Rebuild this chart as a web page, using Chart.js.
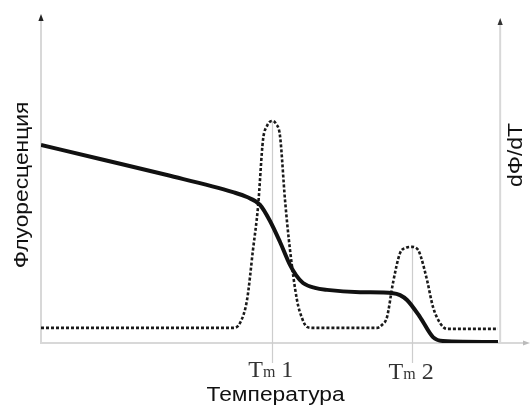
<!DOCTYPE html>
<html>
<head>
<meta charset="utf-8">
<script src="https://cdn.jsdelivr.net/npm/chart.js@4/dist/chart.umd.min.js"></script>
<style>
  html, body { margin:0; padding:0; background:#fff; }
  #c { display:block; }
</style>
</head>
<body>
<canvas id="c" width="531" height="405"></canvas>
<script>
// ===== Data (temperature in arbitrary units 0..100, signal 0..100) =====
// melting curve: fluorescence vs temperature
const meltTemp  = [0, 12.07, 25.77, 39.26, 42.13, 44.79, 46.83, 48.88, 50.92, 52.15, 53.58,
                   56.03, 58.49, 65.24, 71.98, 73.42, 74.85, 77.51, 80.16, 82.21, 93.46];
const meltFluor = [60.4, 56.1, 51.2, 46.0, 44.5, 42.1, 37.2, 30.8, 23.8, 20.7, 18.3,
                   16.8, 16.2, 15.5, 15.2, 14.6, 13.1, 7.9, 1.8, 0.6, 0.3];

// derivative curve: dF/dT vs temperature
const derivTemp  = [0, 39.26, 40.70, 42.13, 43.35, 44.38, 45.40, 46.22, 47.24, 48.06, 48.88,
                    49.90, 50.92, 52.35, 53.37, 54.40, 55.62, 68.71, 69.73, 70.76, 71.98,
                    73.42, 74.64, 75.87, 77.10, 77.71, 78.94, 80.16, 81.60, 83.03, 93.46];
const derivValue = [4.6, 4.6, 6.1, 13.1, 28.4, 41.5, 61.9, 66.2, 67.7, 66.8, 63.1,
                    43.6, 28.4, 13.1, 7.6, 4.9, 4.6, 4.6, 5.5, 7.9, 18.3,
                    27.4, 29.0, 29.3, 28.4, 26.2, 19.2, 11.0, 6.1, 4.3, 4.3];

// melting temperatures and their labels
const tmPos    = [47.2, 75.9];
const tmLabels = ['1', '2'];

// axis titles
const X_TITLE  = 'Температура';
const Y_TITLE  = 'Флуоресценция';
const Y2_TITLE = 'dΦ/dT';
const RIGHT_AXIS_AT = 93.9;   // where the dF/dT axis stands on the temperature scale

// ===== Helpers =====
const toXY = (xs, ys) => xs.map((v, i) => ({ x: v, y: ys[i] }));

function peakAt(t) {
  // derivative value of the nearest sample to t
  let best = 0;
  derivTemp.forEach((v, i) => { if (Math.abs(v - t) < Math.abs(derivTemp[best] - t)) best = i; });
  return derivValue[best];
}

function arrow(ctx, x, y, dir, color) {
  ctx.fillStyle = color;
  ctx.beginPath();
  if (dir === 'up') { ctx.moveTo(x, y); ctx.lineTo(x - 2.6, y + 7); ctx.lineTo(x + 2.6, y + 7); }
  else { ctx.moveTo(x, y); ctx.lineTo(x - 7, y - 2.6); ctx.lineTo(x - 7, y + 2.6); }
  ctx.closePath(); ctx.fill();
}

// sans text is drawn a bit wide, like in the original figure
function wideText(ctx, text, x, y, rot) {
  ctx.save();
  ctx.translate(x, y);
  if (rot) ctx.rotate(rot);
  ctx.scale(1.14, 1);
  ctx.font = '20px "Liberation Sans", Arial, sans-serif';
  ctx.fillStyle = '#111';
  ctx.textAlign = 'center';
  ctx.textBaseline = 'alphabetic';
  ctx.fillText(text, 0, 0);
  ctx.restore();
}

function tmText(ctx, num, cx, baseline) {
  const big = '24px "Liberation Serif", "Times New Roman", serif';
  const small = '16px "Liberation Serif", "Times New Roman", serif';
  ctx.save();
  ctx.fillStyle = '#333';
  ctx.textBaseline = 'alphabetic';
  ctx.textAlign = 'left';
  ctx.font = big;   const wT = ctx.measureText('T').width, wN = ctx.measureText(' ' + num).width;
  ctx.font = small; const wm = ctx.measureText('m').width;
  let x = cx - (wT + wm + wN) / 2;
  ctx.font = big;   ctx.fillText('T', x, baseline); x += wT;
  ctx.font = small; ctx.fillText('m', x, baseline); x += wm;
  ctx.font = big;   ctx.fillText(' ' + num, x, baseline);
  ctx.restore();
}

// ===== Plugin: axes with arrows, Tm guides, titles =====
const decor = {
  id: 'decor',
  beforeDatasetsDraw(chart) {
    const { ctx, chartArea: a, scales: { x, y2 } } = chart;
    const rx = x.getPixelForValue(RIGHT_AXIS_AT);
    ctx.save();
    ctx.strokeStyle = '#d8d8d8';
    ctx.lineWidth = 2;
    ctx.beginPath();
    ctx.moveTo(a.left, a.top + 3); ctx.lineTo(a.left, a.bottom); ctx.lineTo(a.right - 4, a.bottom);
    ctx.moveTo(rx, a.top + 6); ctx.lineTo(rx, a.bottom);
    ctx.stroke();

    ctx.strokeStyle = '#cdcdcd';
    ctx.lineWidth = 1.2;
    tmPos.forEach(t => {
      const px = Math.round(x.getPixelForValue(t)) + 0.5;
      ctx.beginPath();
      ctx.moveTo(px, y2.getPixelForValue(peakAt(t)));
      ctx.lineTo(px, a.bottom + 20);
      ctx.stroke();
    });
    ctx.restore();
  },
  afterDraw(chart) {
    const { ctx, chartArea: a, scales: { x } } = chart;
    const rx = x.getPixelForValue(RIGHT_AXIS_AT);
    arrow(ctx, a.left, a.top - 1, 'up', '#222');
    arrow(ctx, rx, a.top + 3, 'up', '#333');
    arrow(ctx, a.right, a.bottom, 'right', '#bbb');

    tmPos.forEach((t, i) => tmText(ctx, tmLabels[i], x.getPixelForValue(t) - 1, a.bottom + 34 + i * 2));

    wideText(ctx, X_TITLE, (a.left + rx) / 2 + 5, a.bottom + 58, 0);
    wideText(ctx, Y_TITLE, 28, 185, -Math.PI / 2);
    wideText(ctx, Y2_TITLE, rx + 22, 155, -Math.PI / 2);
  }
};

// ===== Chart =====
new Chart(document.getElementById('c'), {
  type: 'line',
  data: {
    datasets: [
      {
        label: Y_TITLE,
        data: toXY(meltTemp, meltFluor),
        yAxisID: 'y',
        borderColor: '#111',
        borderWidth: 4,
        pointRadius: 0,
        cubicInterpolationMode: 'monotone',
        fill: false
      },
      {
        label: Y2_TITLE,
        data: toXY(derivTemp, derivValue),
        yAxisID: 'y2',
        borderColor: '#1a1a1a',
        borderWidth: 2.6,
        borderDash: [3, 2],
        pointRadius: 0,
        cubicInterpolationMode: 'monotone',
        fill: false
      }
    ]
  },
  options: {
    responsive: false,
    animation: false,
    devicePixelRatio: 1,
    layout: { padding: { left: 41, right: 1, top: 15, bottom: 62 } },
    plugins: { legend: { display: false }, tooltip: { enabled: false } },
    scales: {
      x:  { type: 'linear', min: 0, max: 100, display: false },
      y:  { min: 0, max: 100, display: false },
      y2: { min: 0, max: 100, display: false, position: 'right' }
    }
  },
  plugins: [decor]
});
</script>
</body>
</html>
